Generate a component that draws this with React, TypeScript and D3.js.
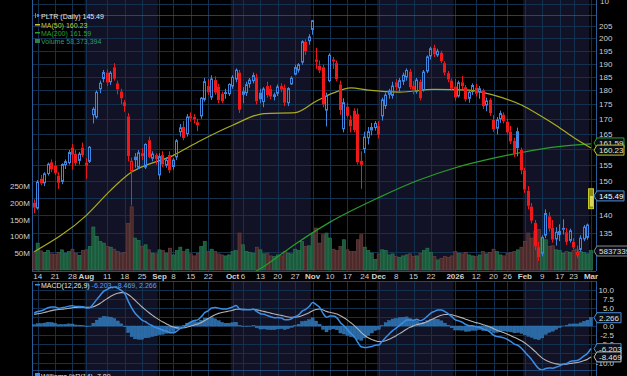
import React from "react";
import * as d3 from "d3";

const W = 627;
const H = 376;

// trading calendar
const START = "2025-07-11";
const END = "2026-03-02";
const HOLIDAYS = ["2025-09-01", "2025-11-27", "2025-12-25", "2026-01-01", "2026-01-19", "2026-02-16"];

// daily candles [open, high, low, close]
const candles: [number, number, number, number][] = [
  [143.5, 144.5, 140.5, 142.1], [142, 150.2, 141.5, 149.6], [150.6, 151.8, 148.6, 149.2], [149.4, 152.6, 148.4, 152.1],
  [152.2, 155.6, 151.6, 155.1], [155.7, 156.6, 152.6, 153.5], [154.6, 156.2, 151.8, 152.4], [151.6, 152.6, 147.6, 149.4],
  [149.8, 155.4, 149, 155], [155, 156.6, 153.6, 155.9], [155.6, 159.6, 155, 158.8], [160.4, 161.6, 153.4, 158.1],
  [158.4, 159.6, 154.6, 155.5], [156.3, 159, 155, 158.3], [160.4, 162, 157.4, 158], [155.6, 157, 150.6, 154.6],
  [156, 160.9, 155.5, 160.5], [171.4, 174, 168.4, 173.3], [170.6, 180, 170, 179.3], [180.6, 183.6, 179, 182.6],
  [184.4, 187.6, 183, 186.6], [186.6, 187.8, 181.6, 182.9], [183.2, 187.2, 182, 186.4], [188.6, 190.2, 183.6, 184.3],
  [182.6, 183.6, 178.6, 180.4], [179.6, 180.6, 175, 177.2], [175.8, 176.6, 172.4, 174.4], [170.8, 172, 156, 157.7],
  [153, 157.2, 142.7, 156], [157.5, 158.6, 154, 156.4], [154.2, 159.6, 153.6, 158.7], [158.6, 160.2, 156.4, 157.6],
  [154.2, 161.8, 153.6, 161.4], [162.8, 164, 157, 157.4], [157, 159.2, 156, 158.3], [158, 158.6, 155, 156.7],
  [151.8, 158.6, 150.4, 157.5], [158, 159.2, 154.2, 155], [154.8, 157.2, 154, 156.3], [158, 159.2, 152.4, 153.2],
  [154.4, 157, 153.4, 156.4], [157.4, 163.2, 156.4, 162.6], [165.6, 168.2, 164, 166.9], [167.2, 169.2, 162.8, 163.5],
  [165, 171.6, 164, 170.6], [170.9, 172.2, 169, 170.1], [170.7, 171.6, 168.4, 169.8], [168.8, 170, 165.8, 167.8],
  [171, 177.6, 170, 177.2], [176.8, 184.6, 176, 183.2], [181.6, 184.2, 178.4, 179.3], [177.6, 185.6, 176.6, 184.2],
  [183.8, 185.2, 178.4, 179.2], [181.4, 182.4, 175.4, 176.5], [178.8, 179.6, 175.4, 176.1], [179.4, 180.6, 177, 178.7],
  [178.8, 182.6, 178, 182.2], [181.6, 185.6, 180.6, 184.8], [184.2, 188.2, 183, 187.5], [186.6, 187.6, 172, 173.1],
  [178.6, 181.2, 175.4, 179.5], [179.2, 183.2, 178, 182.1], [182.5, 184.6, 181, 183.8], [183.6, 186.6, 182.6, 185.5],
  [184.8, 186.2, 175, 176.1], [179.2, 180.6, 175.4, 176.8], [176, 181.2, 174, 180.5], [181.6, 183.2, 177.4, 178.3],
  [180.6, 182, 176.8, 177.8], [177.8, 179.2, 176.4, 178.4], [179, 182.2, 178, 181.3], [181.6, 182.6, 179.4, 180.3],
  [181, 182.2, 174.4, 175.6], [175.6, 181.2, 174.4, 180.7], [182.4, 185.2, 182, 184.5], [186, 189.6, 185.6, 188.5],
  [187.6, 190.2, 186.6, 189.6], [190.6, 199.2, 189.6, 198.6], [198.6, 199.6, 193.4, 194.8], [199, 201.6, 197.4, 200.5],
  [203.6, 207.5, 201.4, 207.2], [191.6, 196.2, 188, 190.7], [189.2, 191.2, 186.4, 187.4], [188.6, 189.6, 174, 175],
  [173, 179.2, 167.4, 177.9], [183.6, 194, 183, 193.2], [191.6, 192.6, 188, 190.8], [190.2, 191.2, 183.4, 184.1],
  [182.2, 183.6, 171.4, 173], [166.6, 177.2, 165.4, 175.6], [174.2, 175.6, 170.4, 171], [169.6, 171.2, 165.4, 167.4],
  [172.8, 173.6, 165.4, 166.2], [171.6, 173.6, 155, 155.7], [156.2, 159.2, 147.6, 154.9], [160, 165.6, 158.6, 163.8],
  [163.6, 167.2, 161.4, 165.6], [167.2, 168.6, 164.4, 166], [167, 169.2, 166, 168.4], [167.6, 169.2, 163.4, 164.6],
  [171, 177.4, 169.4, 176.6], [174.6, 179.2, 173.4, 178.3], [178.6, 180.6, 177, 179.8], [178.2, 183.2, 177, 181.6],
  [183, 184.2, 180, 181.2], [181, 184.6, 179.6, 183.6], [183.4, 186.6, 182, 185.6], [185, 188.2, 183.6, 187.4],
  [187, 188, 180.4, 181.2], [181.6, 183.4, 178.6, 180.2], [179.6, 184.6, 178.8, 183.8], [183.2, 184, 176.4, 177.2],
  [180.2, 187.6, 179.6, 186.8], [187.2, 193.2, 186.4, 192.6], [193, 196.6, 191.6, 195.8], [196.2, 197.4, 192.6, 193.6],
  [193.4, 195.8, 192.6, 194.8], [194.2, 195, 190.2, 191], [190.2, 191, 185.6, 186.6], [186.4, 187.2, 183, 184],
  [183.6, 184.4, 179.8, 180.6], [181.4, 184.2, 176.2, 177.4], [178, 183.6, 177.4, 182.8], [183, 185.4, 180.4, 181.6],
  [181.2, 182, 176, 176.8], [177.2, 180.2, 175.6, 179.4], [179.6, 182.6, 178.4, 181.8], [181, 182.4, 177.8, 178.8],
  [179.4, 181.6, 177, 180.6], [180, 180.6, 173.4, 174.4], [174.8, 177.4, 172.6, 176.2], [176.6, 177.2, 171, 172],
  [169.6, 171.2, 165.6, 166.4], [166.8, 170.6, 164.8, 169.6], [170, 172.8, 168.6, 171.8], [171.4, 172.2, 168.4, 169.2],
  [169, 170, 164.6, 165.4], [165.6, 167.6, 161.6, 162.4], [162.6, 163.6, 157.4, 158.2], [165.8, 167, 157.6, 160.2],
  [159.6, 160.4, 152, 153.2], [153.2, 154, 146.4, 147.4], [147, 148.4, 141.6, 142.6], [142.4, 143.4, 137.6, 138.4],
  [137.8, 138.6, 130.4, 131.4], [131.2, 132.6, 127.6, 128.6], [129.6, 134.4, 128.8, 133.8], [134.4, 141.6, 133.6, 140.4],
  [139.6, 140.8, 135.4, 136.2], [136.4, 138.6, 132.4, 133.2], [133.4, 136.6, 131.6, 135.2], [134.6, 137.4, 132.8, 135.4],
  [136.4, 138.8, 134.6, 135.9], [135.2, 136.4, 131.8, 132.6], [133, 136.2, 132.4, 135.6], [132.6, 133.6, 130.6, 131.1],
  [129.2, 131.6, 128.4, 129.8], [130.6, 134.4, 130, 133.6], [133.4, 137.2, 132.8, 136.6], [133.8, 137.6, 133.2, 137.2],
  [142.4, 147.6, 141.8, 145.49],
];
const PREV_CLOSE = 143.6;

// volume in millions
const volumes = [
  54, 80, 57, 52, 58, 48, 47, 52, 60, 50, 55, 62, 50, 44, 58, 60, 70, 128, 100, 85,
  80, 70, 68, 62, 55, 50, 52, 138, 188, 95, 88, 70, 75, 60, 50, 48, 60, 58, 50, 65,
  45, 58, 68, 55, 62, 48, 42, 50, 70, 85, 55, 62, 55, 48, 45, 42, 45, 55, 58, 110,
  75, 55, 52, 50, 68, 60, 48, 50, 42, 40, 45, 42, 55, 50, 48, 62, 58, 85, 70, 72,
  110, 125, 80, 105, 110, 95, 62, 58, 70, 90, 60, 55, 55, 90, 105, 68, 58, 50, 32, 48,
  60, 58, 45, 48, 40, 38, 42, 45, 48, 40, 42, 50, 58, 65, 52, 40, 30, 35, 40, 38,
  42, 55, 50, 48, 52, 45, 42, 40, 45, 55, 48, 52, 62, 55, 45, 42, 50, 52, 55, 60,
  68, 85, 110, 95, 115, 120, 95, 90, 70, 72, 60, 58, 50, 55, 52, 58, 62, 55, 52, 48,
  58.37,
];

// moving averages [day index, value]
const ma50Points: [number, number][] = [
  [0, 130.0], [15, 139.9], [22, 147.2], [27, 151.9], [40, 157.9], [48, 162.8], [57, 167.8], [66, 171.8],
  [75, 172.1], [81, 176.1], [86, 179.1], [91, 180.9], [96, 180.1], [105, 179.4], [115, 180.4], [125, 180.1],
  [132, 178.3], [140, 174.8], [145, 171.4], [150, 167.7], [155, 163.7], [160, 160.23],
];
const ma200Points: [number, number][] = [
  [63, 124.6], [66, 126.2], [75, 132], [85, 138], [99, 145], [110, 150], [121, 154], [132, 157],
  [141, 159], [150, 160.6], [160, 161.59],
];

// MACD seeds (state before the first visible day)
const MACD_SEED = { ema12: 141.4, ema26: 137.6, signal: 3.1 };

const TICKS: [string, string, boolean][] = [
  ["2025-07-14", "14", false], ["2025-07-21", "21", false], ["2025-07-28", "28", false], ["2025-08-01", "Aug", true],
  ["2025-08-11", "11", false], ["2025-08-18", "18", false], ["2025-08-25", "25", false], ["2025-09-02", "Sep", true],
  ["2025-09-08", "8", false], ["2025-09-15", "15", false], ["2025-09-22", "22", false], ["2025-10-01", "Oct", true],
  ["2025-10-06", "6", false], ["2025-10-13", "13", false], ["2025-10-20", "20", false], ["2025-10-27", "27", false],
  ["2025-11-03", "Nov", true], ["2025-11-10", "10", false], ["2025-11-17", "17", false], ["2025-11-24", "24", false],
  ["2025-12-01", "Dec", true], ["2025-12-08", "8", false], ["2025-12-15", "15", false], ["2025-12-22", "22", false],
  ["2026-01-02", "2026", true], ["2026-01-12", "12", false], ["2026-01-20", "20", false], ["2026-01-26", "26", false],
  ["2026-02-02", "Feb", true], ["2026-02-09", "9", false], ["2026-02-17", "17", false], ["2026-02-23", "23", false],
  ["2026-03-02", "Mar", true],
];
const BAND_MONTHS = [7, 9, 11, 1];

const PRICE_GRID = [125, 130, 135, 140, 145, 150, 155, 160, 165, 170, 175, 180, 185, 190, 195, 200, 205];
const PRICE_LABELS = [205, 200, 195, 190, 185, 180, 175, 170, 165, 155, 150, 140, 135];
const VOL_LABELS = [250, 200, 150, 100, 50];
const MACD_GRID = [10, 7.5, 5, 2.5, 0, -2.5, -5, -7.5, -10];
const MACD_LABELS: [number, string][] = [[10, "10.0"], [7.5, "7.5"], [5, "5.0"], [0, "0.0"], [-2.5, "-2.5"], [-5, "-5.0"], [-10, "-10.0"]];

const FONT = "'Liberation Sans', Arial, sans-serif";
const GRID = "#13304f";
const AXIS = "#2b5c96";
const BAND = "#121226";
const BLUE = "#3f86e0";
const RED = "#f01818";

function LabelBox({ y, text, stroke, color, w = 27 }: { y: number; text: string; stroke: string; color: string; w?: number }) {
  const x0 = 597;
  return (
    <g>
      <path d={`M${x0 - 3},${y} L${x0},${y - 5} L${x0 + w},${y - 5} L${x0 + w},${y + 5} L${x0},${y + 5} Z`} fill="#0a0e16" stroke={stroke} strokeWidth={1} />
      <text x={x0 + 2} y={y + 3} fontSize={8} fill={color} fontFamily={FONT}>{text}</text>
    </g>
  );
}

export default function App() {
  const fmt = d3.utcFormat("%Y-%m-%d");
  const parse = d3.utcParse("%Y-%m-%d");
  const dates = d3.utcDay
    .range(parse(START)!, d3.utcDay.offset(parse(END)!, 1))
    .filter((d) => d.getUTCDay() !== 0 && d.getUTCDay() !== 6 && !HOLIDAYS.includes(fmt(d)));
  const keys = dates.map(fmt);
  const n = candles.length;
  const idx = d3.range(n);
  const x = d3.scalePoint<number>().domain(idx).range([34.2, 591]);
  const step = x.step();
  const xi = (i: number) => x(i)!;

  const LEFT = 32, RIGHT = 596;
  const MAIN_TOP = 15, MAIN_BOT = 271, MACD_TOP = 281, MACD_BOT = 370;

  const y = d3.scaleLog().domain([205, 135]).range([26, 233]);
  const yv = d3.scaleLinear().domain([0, 250]).range([270, 186]);
  const ym = d3.scaleLinear().domain([-10, 10]).range([362.5, 289.5]);

  // MACD
  let e12 = MACD_SEED.ema12, e26 = MACD_SEED.ema26, sig = MACD_SEED.signal;
  const macd: number[] = [], signal: number[] = [], hist: number[] = [];
  candles.forEach(([, , , c]) => {
    e12 += (2 / 13) * (c - e12);
    e26 += (2 / 27) * (c - e26);
    const m = e12 - e26;
    sig += (2 / 10) * (m - sig);
    macd.push(m);
    signal.push(sig);
    hist.push(m - sig);
  });

  // bands
  const bands: { x0: number; x1: number }[] = [];
  BAND_MONTHS.forEach((m) => {
    const ids = idx.filter((i) => dates[i] && dates[i].getUTCMonth() === m);
    if (ids.length) bands.push({ x0: xi(ids[0]) - step / 2, x1: Math.min(RIGHT, xi(ids[ids.length - 1]) + step / 2) });
  });

  const tickX = TICKS.map(([d, l, b]) => ({ x: xi(keys.indexOf(d)), l, b }));

  const lineMA = d3.line<[number, number]>().x((d) => xi(d[0])).y((d) => y(d[1])).curve(d3.curveMonotoneX);
  const lineM = d3.line<number>().x((_, i) => xi(i)).y((d) => ym(d)).curve(d3.curveMonotoneX);

  const prevClose = (i: number) => (i === 0 ? PREV_CLOSE : candles[i - 1][3]);

  return (
    <svg width={W} height={H} style={{ position: "absolute", left: 0, top: 0, display: "block", background: "#000" }} fontFamily={FONT}>
      <defs>
        <clipPath id="mainClip"><rect x={LEFT} y={MAIN_TOP} width={RIGHT - LEFT} height={MAIN_BOT - MAIN_TOP} /></clipPath>
        <clipPath id="macdClip"><rect x={LEFT} y={MACD_TOP} width={RIGHT - LEFT} height={MACD_BOT - MACD_TOP} /></clipPath>
      </defs>
      <rect x={0} y={0} width={W} height={H} fill="#000" />
      {/* bands */}
      {bands.map((b, k) => (
        <g key={k}>
          <rect x={b.x0} y={0} width={b.x1 - b.x0} height={MAIN_BOT} fill={BAND} />
          <rect x={b.x0} y={MACD_TOP} width={b.x1 - b.x0} height={H - MACD_TOP} fill={BAND} />
        </g>
      ))}
      {/* vertical grid */}
      {tickX.map((t, k) => (
        <g key={k}>
          <line x1={Math.round(t.x) + 0.5} x2={Math.round(t.x) + 0.5} y1={0} y2={MAIN_BOT} stroke={GRID} />
          <line x1={Math.round(t.x) + 0.5} x2={Math.round(t.x) + 0.5} y1={MACD_TOP} y2={H} stroke={GRID} />
        </g>
      ))}
      {/* horizontal grid main */}
      {PRICE_GRID.map((p) => (
        <line key={p} x1={LEFT} x2={RIGHT} y1={Math.round(y(p)) + 0.5} y2={Math.round(y(p)) + 0.5} stroke={GRID} />
      ))}
      <line x1={LEFT} x2={RIGHT} y1={4.5} y2={4.5} stroke={GRID} />
      <line x1={LEFT} x2={RIGHT} y1={MAIN_TOP + 0.5} y2={MAIN_TOP + 0.5} stroke={AXIS} strokeOpacity={0.7} />
      <line x1={LEFT} x2={RIGHT} y1={MAIN_BOT + 0.5} y2={MAIN_BOT + 0.5} stroke={AXIS} strokeOpacity={0.7} />
      {/* macd grid */}
      {MACD_GRID.map((v) => (
        <line key={v} x1={LEFT} x2={RIGHT} y1={Math.round(ym(v)) + 0.5} y2={Math.round(ym(v)) + 0.5} stroke={GRID} />
      ))}
      <line x1={LEFT} x2={RIGHT} y1={MACD_TOP + 0.5} y2={MACD_TOP + 0.5} stroke={AXIS} strokeOpacity={0.7} />
      <line x1={LEFT} x2={RIGHT} y1={MACD_BOT + 0.5} y2={MACD_BOT + 0.5} stroke={AXIS} strokeOpacity={0.7} />
      {/* side axes */}
      <line x1={LEFT + 0.5} x2={LEFT + 0.5} y1={0} y2={MAIN_BOT} stroke={AXIS} />
      <line x1={LEFT + 0.5} x2={LEFT + 0.5} y1={MACD_TOP} y2={H} stroke={AXIS} />
      <line x1={RIGHT + 0.5} x2={RIGHT + 0.5} y1={0} y2={MAIN_BOT} stroke={AXIS} />
      <line x1={RIGHT + 0.5} x2={RIGHT + 0.5} y1={MACD_TOP} y2={H} stroke={AXIS} />

      {/* volume */}
      <g clipPath="url(#mainClip)">
        {volumes.map((v, i) => {
          const up = candles[i][3] >= prevClose(i);
          return (
            <rect key={i} x={xi(i) - step / 2 + 0.2} width={step - 0.4} y={yv(v)} height={yv(0) - yv(v)}
              fill={up ? "#1b5a3c" : "#4a2b2b"} stroke={up ? "#2b7d55" : "#734343"} strokeWidth={0.6} />
          );
        })}
        {/* moving averages */}
        <path d={lineMA(ma200Points)!} fill="none" stroke="#2a9e2a" strokeWidth={1.2} />
        <path d={lineMA(ma50Points)!} fill="none" stroke="#aaaa22" strokeWidth={1.2} />
        {/* candles */}
        {candles.map(([o, h, l, c], i) => {
          const X = Math.floor(xi(i));
          const last = i === n - 1;
          const col = last ? "#c8c826" : c >= prevClose(i) ? BLUE : RED;
          const filled = c < o;
          const top = y(Math.max(o, c));
          const bot = y(Math.min(o, c));
          const bh = Math.max(1, bot - top);
          if (last) {
            return (
              <g key={i}>
                <rect x={X - 2.5} y={y(h)} width={5} height={y(l) - y(h)} fill="#8a8a14" stroke={col} strokeWidth={1} />
                <rect x={X - 1} y={top} width={3} height={bh} fill="#d8d850" />
              </g>
            );
          }
          return (
            <g key={i}>
              <line x1={X + 0.5} x2={X + 0.5} y1={y(h)} y2={top} stroke={col} strokeWidth={1} />
              <line x1={X + 0.5} x2={X + 0.5} y1={top + bh} y2={y(l)} stroke={col} strokeWidth={1} />
              {filled ? (
                <rect x={X - 1} y={top} width={3} height={bh} fill={col} />
              ) : (
                <rect x={X - 0.5} y={top} width={2} height={bh} fill="none" stroke={col} strokeWidth={1} />
              )}
            </g>
          );
        })}
      </g>

      {/* MACD */}
      <g clipPath="url(#macdClip)">
        {hist.map((h, i) => (
          <rect key={i} x={xi(i) - step / 2 + 0.2} width={step - 0.4} y={Math.min(ym(h), ym(0))} height={Math.abs(ym(h) - ym(0))}
            fill="#2a6aa6" stroke="#3a80c0" strokeWidth={0.4} />
        ))}
        <path d={lineM(signal)!} fill="none" stroke="#b4b4b4" strokeWidth={1.1} />
        <path d={lineM(macd)!} fill="none" stroke="#3b8ee6" strokeWidth={1.5} />
      </g>

      {/* date labels */}
      {tickX.map((t, k) => (
        <text key={k} x={t.x} y={279} fontSize={8} textAnchor="middle" fill="#d0d0d0" fontWeight={t.b ? "bold" : "normal"}>{t.l}</text>
      ))}

      {/* right price labels */}
      <text x={600} y={4} fontSize={8} fill="#d0d0d0">10</text>
      {PRICE_LABELS.map((p) => (
        <text key={p} x={599} y={y(p) + 3} fontSize={8} fill="#d0d0d0">{p}</text>
      ))}
      {VOL_LABELS.map((v) => (
        <text key={v} x={30} y={yv(v) + 3} fontSize={8} textAnchor="end" fill="#d0d0d0">{v}M</text>
      ))}
      {MACD_LABELS.map(([v, s]) => (
        <text key={s} x={614} y={ym(v) + 3} fontSize={8} textAnchor="end" fill="#d0d0d0">{s}</text>
      ))}

      <LabelBox y={y(161.59) - 1} text="161.59" stroke="#2a9e2a" color="#e0e0e0" />
      <LabelBox y={y(160.23) + 2} text="160.23" stroke="#c8c826" color="#e8e8c0" />
      <LabelBox y={y(145.49)} text="145.49" stroke="#4a90dc" color="#ffffff" />
      <LabelBox y={251} text="58373394" stroke="#8a8a8a" color="#e0e0e0" w={36} />
      <LabelBox y={ym(2.266)} text="2.266" stroke="#4a90dc" color="#e0e0e0" w={24} />
      <LabelBox y={ym(-6.203)} text="-6.203" stroke="#4a90dc" color="#e0e0e0" w={24} />
      <LabelBox y={ym(-8.469)} text="-8.469" stroke="#c0c0c0" color="#e0e0e0" w={24} />

      {/* legends */}
      <g fontSize={7}>
        <rect x={35} y={13} width={1} height={5} fill={BLUE} />
        <rect x={37} y={14} width={2} height={3} fill={BLUE} />
        <text x={41} y={19} fill="#e6e6e6">PLTR (Daily) 145.49</text>
        <rect x={35} y={24} width={5} height={1.5} fill="#c8c826" />
        <text x={41} y={27.5} fill="#c8c826">MA(50) 160.23</text>
        <rect x={35} y={32} width={5} height={1.5} fill="#2aa02a" />
        <text x={41} y={35.5} fill="#2aa02a">MA(200) 161.59</text>
        <rect x={35} y={39} width={5} height={4} fill="#2a7d55" />
        <text x={41} y={43.5} fill="#2a9d6a">Volume 58,373,394</text>

        <rect x={35} y={284} width={5} height={1.5} fill="#3b8ee6" />
        <text x={41} y={288} fill="#e6e6e6">MACD(12,26,9) <tspan fill="#5aa0ea">-6.203, -8.469, 2.266</tspan></text>

        <rect x={35} y={373} width={5} height={4} fill="#3b8ee6" />
        <text x={41} y={379} fill="#e6e6e6">Williams %R(14) -7.89</text>
      </g>
    </svg>
  );
}
